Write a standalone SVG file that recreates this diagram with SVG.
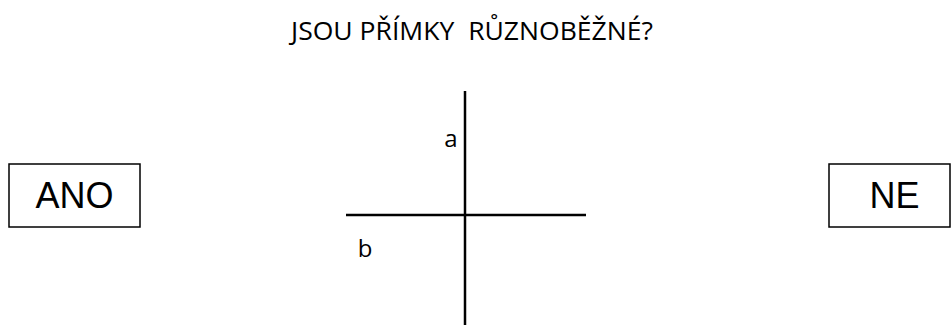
<svg xmlns="http://www.w3.org/2000/svg" width="952" height="325" viewBox="0 0 952 325">
<style>
.box{fill:#fff;stroke:#000;stroke-width:1.5}
.big{font-family:"Liberation Sans",Arial,sans-serif;font-size:36px;fill:#000}
.lbl{font-family:"Open Sans","Liberation Sans",sans-serif;font-size:24px;fill:#000}
.ln{stroke:#000;stroke-width:2.5;fill:none}
</style>
<rect width="952" height="325" fill="#fff"/>
<text x="472" y="40" text-anchor="middle" xml:space="preserve" class="lbl" style="font-size:25px" textLength="362" lengthAdjust="spacingAndGlyphs">JSOU PŘÍMKY  RŮZNOBĚŽNÉ?</text>
<g id="ano">
<rect class="box" x="9" y="164" width="131" height="63"/>
<text class="big" x="74.5" y="208" text-anchor="middle">ANO</text>
</g>
<g id="ne">
<rect class="box" x="829" y="164" width="121" height="63"/>
<text class="big" x="894.5" y="208" text-anchor="middle">NE</text>
</g>
<g id="connectors">
<line class="ln" x1="465" y1="91" x2="465" y2="325"/>
<line class="ln" x1="346" y1="215" x2="586" y2="215"/>
</g>
<g id="labels">
<text class="lbl" x="451" y="147" text-anchor="middle">a</text>
<text class="lbl" x="365" y="257" text-anchor="middle">b</text>
</g>
</svg>
